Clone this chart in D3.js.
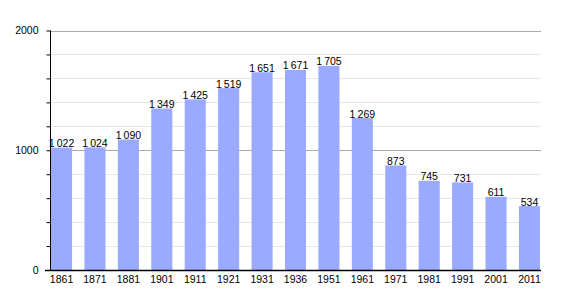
<!DOCTYPE html>
<html>
<head>
<meta charset="utf-8">
<script src="https://cdn.jsdelivr.net/npm/d3@7"></script>
<style>
body { margin: 0; background: #fff; }
text { font-family: "Liberation Sans", Arial, sans-serif; }
</style>
</head>
<body>
<script>
"use strict";
const years = ["1861", "1871", "1881", "1901", "1911", "1921", "1931", "1936", "1951", "1961", "1971", "1981", "1991", "2001", "2011"];
const population = [1022, 1024, 1090, 1349, 1425, 1519, 1651, 1671, 1705, 1269, 873, 745, 731, 611, 534];
const majorTicks = [0, 1000, 2000];
const minorTicks = [200, 400, 600, 800, 1200, 1400, 1600, 1800];

const size = {"width": 570, "height": 300};
const svg = d3.select("body")
	.append("svg")
	.attr("width", size.width)
	.attr("height", size.height);

const x = d3.scaleBand()
	.domain(years)
	.range([51, 540])
	.paddingInner(0.37)
	.paddingOuter(0);
const y = d3.scaleLinear()
	.domain([0, 2000])
	.range([270, 30.5]);

// grid lines
svg.selectAll("line.minor")
	.data(minorTicks)
	.enter()
	.append("line")
	.attr("x1", 50.5)
	.attr("x2", 541)
	.attr("y1", d => Math.round(y(d)) + 0.5)
	.attr("y2", d => Math.round(y(d)) + 0.5)
	.attr("stroke", "#e6e6e6");
svg.selectAll("line.major")
	.data(majorTicks.slice(1))
	.enter()
	.append("line")
	.attr("x1", 50.5)
	.attr("x2", 541)
	.attr("y1", d => Math.round(y(d)) + 0.5)
	.attr("y2", d => Math.round(y(d)) + 0.5)
	.attr("stroke", "#aaaaaa");

// bars
svg.selectAll("rect")
	.data(population)
	.enter()
	.append("rect")
	.attr("x", (d, i) => x(years[i]))
	.attr("y", d => y(d))
	.attr("width", x.bandwidth())
	.attr("height", d => y(0) - y(d))
	.attr("fill", "#99aaff");

// value labels
const fmt = d => {
	const s = String(d);
	return s.length > 3 ? s.slice(0, s.length - 3) + "\u2009" + s.slice(-3) : s;
};
svg.selectAll("text.value")
	.data(population)
	.enter()
	.append("text")
	.attr("x", (d, i) => x(years[i]) + x.bandwidth() / 2)
	.attr("y", d => y(d) - 0.5)
	.attr("text-anchor", "middle")
	.attr("font-size", 10.5)
	.attr("fill", "#000")
	.text(fmt);

// y axis
const yAxis = d3.axisLeft(y)
	.tickValues(majorTicks.concat(minorTicks))
	.tickSize(4)
	.tickFormat(d => majorTicks.includes(d) ? d : "");
svg.append("g")
	.attr("transform", "translate(50.5,0)")
	.call(yAxis)
	.call(g => g.select(".domain").attr("d", "M0," + (y(2000)) + "V" + y(0)).attr("stroke", "#000"))
	.call(g => g.selectAll(".tick text").attr("x", -12).attr("font-size", 10.5).attr("font-family", "Liberation Sans, Arial, sans-serif"));

// x axis
const xAxis = d3.axisBottom(x).tickSize(0).tickPadding(5);
svg.append("g")
	.attr("transform", "translate(0,270.5)")
	.call(xAxis)
	.call(g => g.select(".domain").attr("d", "M45,0H541").attr("stroke", "#000").attr("stroke-width", 1.5))
	.call(g => g.selectAll(".tick text").attr("font-size", 10.5).attr("font-family", "Liberation Sans, Arial, sans-serif"));
</script>
</body>
</html>
